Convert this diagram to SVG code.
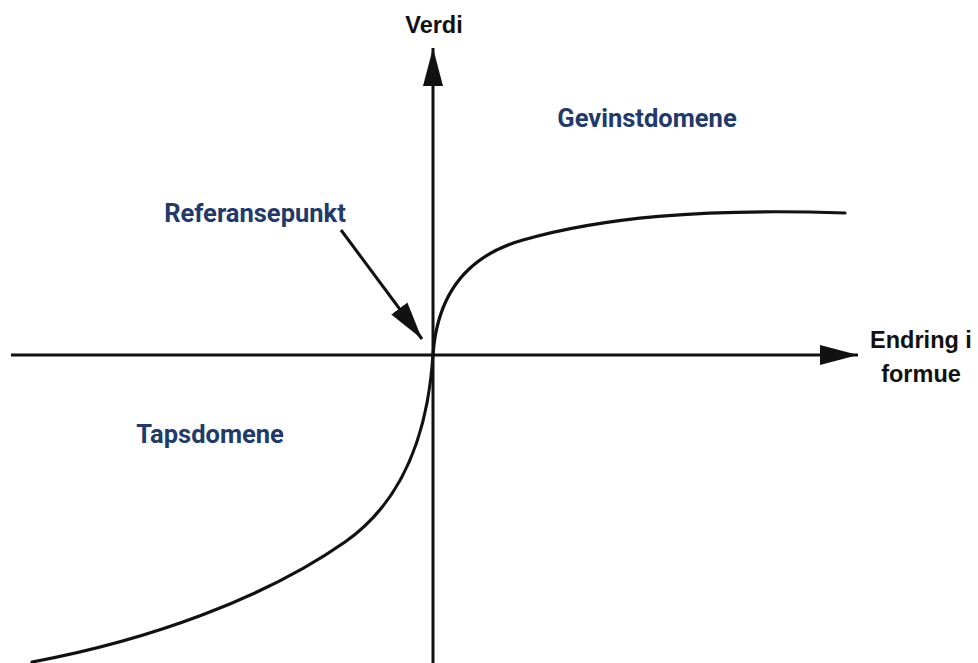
<svg xmlns="http://www.w3.org/2000/svg" width="978" height="663" viewBox="0 0 978 663">
<style>
.ax{stroke:#111;stroke-width:3;fill:none}
.cv{stroke:#111;stroke-width:3.2;fill:none;stroke-linecap:round}
.lbk{font-family:"Liberation Sans",Arial,sans-serif;font-weight:bold;fill:#111}
.lbl{font-family:Roboto,"Liberation Sans",sans-serif;font-weight:bold;fill:#213a6b}
</style>
<defs>
<marker id="ah" markerUnits="userSpaceOnUse" markerWidth="42" markerHeight="22" refX="38" refY="11" orient="auto">
<path d="M0,1 L38,11 L0,21 Z" fill="#111"/>
</marker>
</defs>
<rect width="978" height="663" fill="#fff"/>
<g id="connectors">
<line class="ax" x1="11" y1="355" x2="858" y2="355" marker-end="url(#ah)"/>
<line class="ax" x1="433" y1="663" x2="433" y2="48" marker-end="url(#ah)"/>
<line class="ax" x1="341" y1="230" x2="422" y2="339" marker-end="url(#ah)"/>
</g>
<g id="curve">
<path class="cv" d="M433,355 C437,296 466,256 523,240 C600,218 700,208 845,213"/>
<path class="cv" d="M433,355 C428,430 405,500 345,542 C265,598 150,640 32,662"/>
</g>
<g id="verdi"><text class="lbk" x="434" y="33" font-size="23.5" text-anchor="middle">Verdi</text></g>
<g id="endring"><text class="lbk" x="921" y="348" font-size="23.5" text-anchor="middle">Endring i</text><text class="lbk" x="921" y="382" font-size="23.5" text-anchor="middle">formue</text></g>
<g id="gevinst"><text class="lbl" x="647" y="127" font-size="25.5" text-anchor="middle">Gevinstdomene</text></g>
<g id="referanse"><text class="lbl" x="255" y="222" font-size="25.5" text-anchor="middle">Referansepunkt</text></g>
<g id="taps"><text class="lbl" x="210" y="443" font-size="25.5" text-anchor="middle">Tapsdomene</text></g>
</svg>
